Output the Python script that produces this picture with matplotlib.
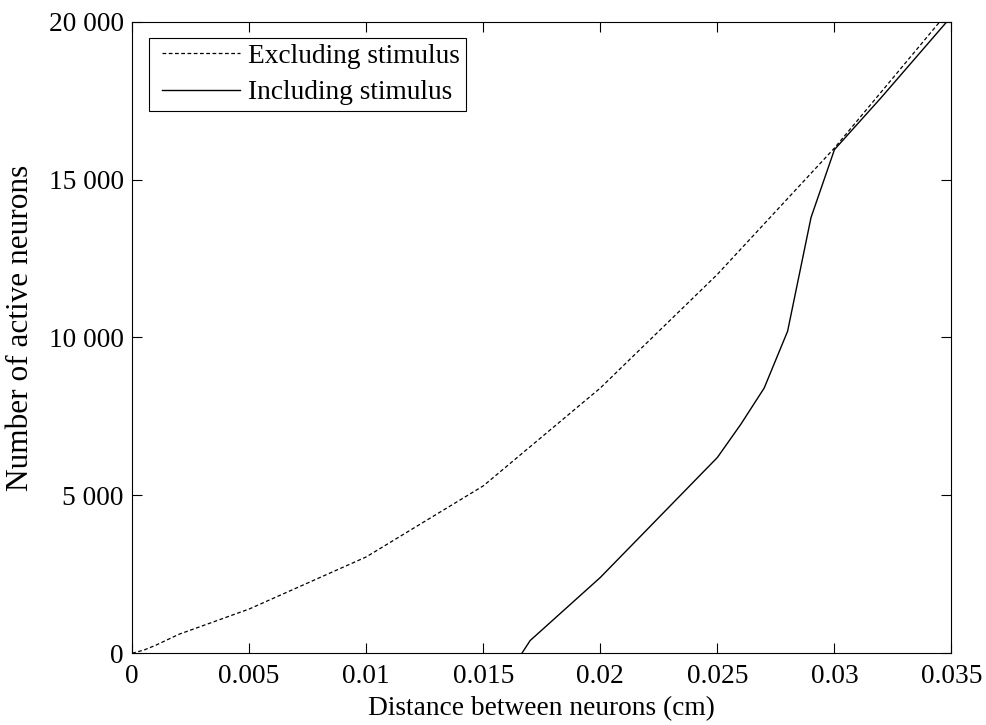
import matplotlib.pyplot as plt
from matplotlib.ticker import FuncFormatter

# distance between neurons (cm) vs number of active neurons
dist_excl = [0.0, 0.0005, 0.001, 0.002, 0.005, 0.01, 0.015, 0.02, 0.025, 0.03, 0.0345]
active_excl = [0, 100, 250, 600, 1400, 3050, 5300, 8400, 12000, 16000, 20000]

dist_incl = [0.01665, 0.017, 0.02, 0.025, 0.026, 0.027, 0.028, 0.029, 0.030, 0.032, 0.0348]
active_incl = [0, 400, 2400, 6200, 7250, 8400, 10200, 13800, 15950, 17600, 20000]

plt.rcParams['font.family'] = ['Liberation Serif', 'DejaVu Serif']
font_size = 19.7

fig, ax = plt.subplots(figsize=(9.86, 7.25), dpi=100)
fig.subplots_adjust(left=0.134, right=0.965, top=0.970, bottom=0.099)

ax.plot(dist_excl, active_excl, color='black', linestyle=(0, (3, 2)), linewidth=0.9,
        label='Excluding stimulus')
ax.plot(dist_incl, active_incl, color='black', linestyle='-', linewidth=1.0,
        label='Including stimulus')

ax.set_xlim(0, 0.035)
ax.set_ylim(0, 20000)
ax.set_xticks([0, 0.005, 0.01, 0.015, 0.02, 0.025, 0.03, 0.035])
ax.set_xticklabels(['0', '0.005', '0.01', '0.015', '0.02', '0.025', '0.03', '0.035'])
ax.set_yticks([0, 5000, 10000, 15000, 20000])
ax.yaxis.set_major_formatter(FuncFormatter(lambda v, p: f'{int(v):,}'.replace(',', ' ')))

ax.tick_params(direction='in', top=True, right=True, length=7, width=0.8,
               labelsize=font_size)
ax.tick_params(axis='x', pad=8)
ax.tick_params(axis='y', pad=6)
for s in ax.spines.values():
    s.set_linewidth(0.8)

ax.set_xlabel('Distance between neurons (cm)', fontsize=font_size, labelpad=5)
ax.set_ylabel('Number of active neurons', fontsize=22.5)
ax.yaxis.set_label_coords(-0.118, 0.515)

leg = ax.legend(loc='upper left', fontsize=font_size, fancybox=False, framealpha=1,
                edgecolor='black', numpoints=2, handlelength=3.45, handletextpad=0.0,
                borderpad=0.2, labelspacing=0.42, borderaxespad=0.6)
leg.get_frame().set_linewidth(0.8)

fig.savefig('out.png', dpi=100)
